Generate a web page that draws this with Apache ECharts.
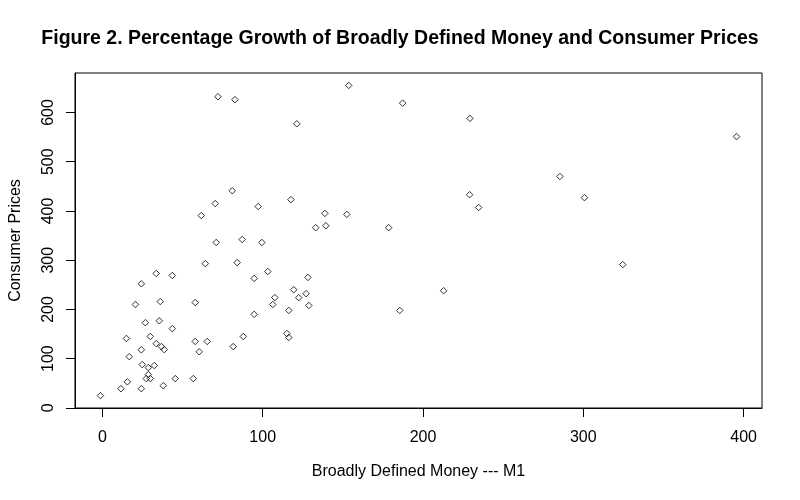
<!DOCTYPE html>
<html>
<head>
<meta charset="utf-8">
<script src="https://cdn.jsdelivr.net/npm/echarts@6/dist/echarts.min.js"></script>
<style>html,body{margin:0;padding:0;background:#fff}#c{width:800px;height:500px}</style>
</head>
<body>
<div id="c"></div>
<script>
// Broadly Defined Money (M1) growth, %
var moneyGrowth = [
  -1.2, 11.6, 15.6, 24.3, 38, 45.5, 56.7, 27.4, 29.9, 28.7,
  28.7, 24.9, 32.4, 16.8, 24.3, 15, 29.9, 33.6, 36.8, 38.6,
  26.8, 35.5, 43.6, 20.6, 36.1, 24.3, 33.6, 43.6, 57.9, 57.9,
  65.4, 60.4, 61.7, 70.4, 81, 71, 64.2, 87.2, 97.2, 84.1,
  94.7, 94.7, 87.9, 81.6, 99.5, 103.2, 117.6, 133.1, 138.8, 139.4,
  152.5, 178.6, 229.1, 234.7, 212.9, 185.5, 128.2, 119.4, 127.1, 122.5,
  107.6, 106.3, 128.8, 116.3, 115.1, 116.3, 72.1, 82.7, 153.7, 121.3,
  187.3, 229.3, 395.6, 285.4, 300.7, 324.6
];
// Consumer Prices growth, %
var consumerPrices = [
  25, 39, 53, 39, 45, 59.5, 59.5, 59.5, 59.5, 67.7,
  81.8, 88, 86, 104, 118, 141, 145, 130.6, 124.5, 118.4,
  173, 177, 161, 210, 216, 252, 273, 269, 214, 135,
  135, 114, 390.6, 415, 441, 336, 293, 342, 409, 295,
  263, 190, 145, 124.5, 336, 277, 423, 366, 395, 370,
  393, 366, 433, 407, 238, 198, 265, 240, 232, 224,
  224, 210, 208, 198, 151, 143, 632, 626, 655, 577,
  619, 588, 551, 470, 427, 291
];
var xTicks = [0, 100, 200, 300, 400];
var yTicks = [0, 100, 200, 300, 400, 500, 600];

var titleText = 'Figure 2. Percentage Growth of Broadly Defined Money and Consumer Prices';
var xName = 'Broadly Defined Money --- M1';
var yName = 'Consumer Prices';

function extRange(arr) {
  var lo = Math.min.apply(null, arr), hi = Math.max.apply(null, arr);
  var pad = (hi - lo) * 0.04;
  return [lo - pad, hi + pad];
}
var xr = extRange(moneyGrowth), yr = extRange(consumerPrices);
var pts = moneyGrowth.map(function (v, i) { return [v, consumerPrices[i]]; });

var FONT = '"Liberation Sans", Arial, sans-serif';
var chart = echarts.init(document.getElementById('c'), null, {renderer: 'canvas'});
chart.setOption({
  animation: false,
  backgroundColor: '#fff',
  title: {
    text: titleText, left: 'center', top: 24,
    textStyle: {fontFamily: FONT, fontWeight: 'bold', fontSize: 19.5, color: '#000'}
  },
  grid: {left: 73, right: 38, top: 73, bottom: 92, show: true, borderColor: '#000', borderWidth: 1, backgroundColor: 'transparent'},
  xAxis: {
    type: 'value', min: xr[0], max: xr[1],
    name: xName, nameLocation: 'middle', nameGap: 56,
    nameTextStyle: {fontFamily: FONT, fontSize: 16, color: '#000'},
    axisLine: {show: true, onZero: false, lineStyle: {color: '#000', width: 1}},
    axisTick: {show: true, customValues: xTicks, length: 9, lineStyle: {color: '#000'}},
    axisLabel: {customValues: xTicks, margin: 22, fontFamily: FONT, fontSize: 16, color: '#000'},
    splitLine: {show: false}
  },
  yAxis: {
    type: 'value', min: yr[0], max: yr[1],
    name: yName, nameLocation: 'middle', nameGap: 51, nameRotate: 90,
    nameTextStyle: {fontFamily: FONT, fontSize: 16, color: '#000'},
    axisLine: {show: true, onZero: false, lineStyle: {color: '#000', width: 1}},
    axisTick: {show: true, customValues: yTicks, length: 9, lineStyle: {color: '#000'}},
    axisLabel: {customValues: yTicks, rotate: 90, margin: 18, fontFamily: FONT, fontSize: 16, color: '#000'},
    splitLine: {show: false}
  },
  series: [{
    type: 'scatter', data: pts, symbol: 'diamond', symbolSize: 6.5,
    itemStyle: {color: 'transparent', borderColor: '#000', borderWidth: 1}
  }]
});
</script>
</body>
</html>
